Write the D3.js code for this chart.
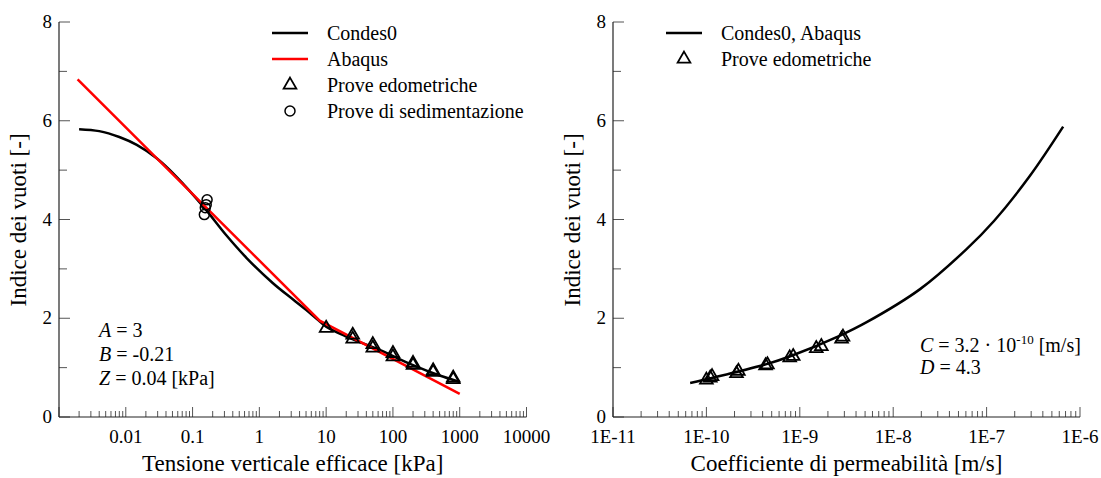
<!DOCTYPE html>
<html lang="it">
<head>
<meta charset="utf-8">
<title>Indice dei vuoti</title>
<script src="https://d3js.org/d3.v7.min.js"></script>
<style>
  body { margin: 0; background: #fff; }
  text { font-family: 'Liberation Serif', 'Times New Roman', serif; fill: #000; }
  .tick-label { font-size: 19px; }
  .axis-title { font-size: 23px; }
  .legend text, .note { font-size: 20px; }
</style>
</head>
<body>
<script>
// ---- data ----
// left chart: void ratio vs vertical effective stress [kPa]
const condesLeft = [[0.002,5.83],[0.004,5.79],[0.008,5.67],[0.0146,5.51],[0.029,5.24],[0.058,4.86],[0.145,4.26],
  [0.32,3.68],[0.645,3.22],[1.6,2.71],[3.2,2.38],[5,2.17],[7.2,1.99],[10,1.83],[20,1.63],[63,1.36],
  [200,1.05],[500,0.84],[1000,0.71]];
const abaqusLeft = [[0.0019,6.84],[8,1.95],[1000,0.47]];
const edometricheLeft = [[10,1.80],[25,1.66],[25,1.58],[50,1.47],[50,1.40],[100,1.29],[100,1.22],
  [200,1.09],[200,1.05],[400,0.94],[400,0.91],[800,0.79],[800,0.76]];
const sedimentazione = [[0.165,4.40],[0.16,4.30],[0.155,4.24],[0.15,4.10]];
const leftTicks = [0.01, 0.1, 1, 10, 100, 1000, 10000];
const leftTickLabels = ["0.01", "0.1", "1", "10", "100", "1000", "10000"];

// right chart: void ratio vs permeability [m/s]
const condesRight = [[6.7e-11,0.69],[1.2e-10,0.80],[4.4e-10,1.07],[7.9e-10,1.23],[2.7e-9,1.65],[5.2e-9,1.92],
  [1.94e-8,2.59],[6.1e-8,3.40],[1.2e-7,3.97],[2.9e-7,4.88],[6.6e-7,5.88]];
const edometricheRight = [[1.0e-10,0.75],[1.1e-10,0.79],[1.15e-10,0.82],[2.1e-10,0.88],[2.2e-10,0.93],
  [4.3e-10,1.04],[4.5e-10,1.06],[7.8e-10,1.20],[8.5e-10,1.23],[1.5e-9,1.39],[1.7e-9,1.43],[2.8e-9,1.58],[2.9e-9,1.62]];
const rightTicks = [1e-11, 1e-10, 1e-9, 1e-8, 1e-7, 1e-6];
const rightTickLabels = ["1E-11", "1E-10", "1E-9", "1E-8", "1E-7", "1E-6"];

const yTicks = [0, 2, 4, 6, 8];

const W = 1101, H = 478;
const svg = d3.select("body").append("svg").attr("width", W).attr("height", H);

const yScale = d3.scaleLinear().domain([0, 8]).range([417, 22]);

const triangle = d3.symbol().type(d3.symbolTriangle).size(70);

function drawPanel(cfg) {
  const g = svg.append("g");
  const x = cfg.x, y = yScale;
  const x0 = x.range()[0];

  // minor and major x ticks (inward)
  const [d0, d1] = x.domain().map(Math.log10);
  const minor = [];
  for (let e = Math.round(d0); e < Math.round(d1); e++) {
    for (let m = 2; m <= 9; m++) minor.push(m * Math.pow(10, e));
  }
  g.selectAll(".xminor").data(minor).join("line")
    .attr("x1", d => x(d)).attr("x2", d => x(d))
    .attr("y1", 417).attr("y2", 411)
    .attr("stroke", "#555").attr("stroke-width", 1);
  const major = d3.range(Math.round(d0), Math.round(d1) + 1).map(e => Math.pow(10, e));
  g.selectAll(".xmajor").data(major).join("line")
    .attr("x1", d => x(d)).attr("x2", d => x(d))
    .attr("y1", 417).attr("y2", 407)
    .attr("stroke", "#555").attr("stroke-width", 1);

  // y ticks
  g.selectAll(".ymajor").data(yTicks).join("line")
    .attr("x1", x0).attr("x2", x0 + 11)
    .attr("y1", d => y(d)).attr("y2", d => y(d))
    .attr("stroke", "#555");
  g.selectAll(".yminor").data([1, 3, 5, 7]).join("line")
    .attr("x1", x0).attr("x2", x0 + 8)
    .attr("y1", d => y(d)).attr("y2", d => y(d))
    .attr("stroke", "#555");

  // axis lines
  g.append("line").attr("x1", x0).attr("x2", x.range()[1]).attr("y1", 417).attr("y2", 417)
    .attr("stroke", "#222").attr("stroke-width", 1.2);
  g.append("line").attr("x1", x0).attr("x2", x0).attr("y1", 417).attr("y2", 22)
    .attr("stroke", "#222").attr("stroke-width", 1.2);

  // tick labels
  g.selectAll(".xl").data(cfg.ticks).join("text")
    .attr("class", "tick-label")
    .attr("x", d => x(d)).attr("y", 443)
    .attr("text-anchor", "middle")
    .text((d, i) => cfg.tickLabels[i]);
  g.selectAll(".yl").data(yTicks).join("text")
    .attr("class", "tick-label")
    .attr("x", x0 - 7).attr("y", d => y(d) + 6)
    .attr("text-anchor", "end")
    .text(d => d);

  // titles
  g.append("text").attr("class", "axis-title")
    .attr("x", (x0 + x.range()[1]) / 2).attr("y", 471)
    .attr("text-anchor", "middle").text(cfg.xTitle);
  g.append("text").attr("class", "axis-title")
    .attr("transform", `translate(${x0 - 33},220) rotate(-90)`)
    .attr("text-anchor", "middle").text("Indice dei vuoti [-]");

  cfg.lines.forEach(l => {
    g.append("path").datum(l.data)
      .attr("d", d3.line().x(d => x(d[0])).y(d => y(d[1])).curve(l.curve || d3.curveCatmullRom.alpha(0.5)))
      .attr("fill", "none").attr("stroke", l.color).attr("stroke-width", 2.5);
  });
  g.selectAll(".tri").data(cfg.triangles).join("path")
    .attr("d", triangle)
    .attr("transform", d => `translate(${x(d[0])},${y(d[1])})`)
    .attr("fill", "none").attr("stroke", "#000").attr("stroke-width", 1.8);
  if (cfg.circles) {
    g.selectAll(".circ").data(cfg.circles).join("circle")
      .attr("cx", d => x(d[0])).attr("cy", d => y(d[1])).attr("r", 5)
      .attr("fill", "none").attr("stroke", "#000").attr("stroke-width", 1.5);
  }
  return g;
}

// left panel
const xLeft = d3.scaleLog().domain([0.001, 10000]).range([59, 526.5]);
const gl = drawPanel({
  x: xLeft, ticks: leftTicks, tickLabels: leftTickLabels,
  xTitle: "Tensione verticale efficace [kPa]",
  lines: [
    { data: condesLeft, color: "#000" },
    { data: abaqusLeft, color: "#ff0000", curve: d3.curveLinear }
  ],
  triangles: edometricheLeft, circles: sedimentazione
});

// right panel
const xRight = d3.scaleLog().domain([1e-11, 1e-6]).range([613, 1080]);
const gr = drawPanel({
  x: xRight, ticks: rightTicks, tickLabels: rightTickLabels,
  xTitle: "Coefficiente di permeabilità [m/s]",
  lines: [{ data: condesRight, color: "#000" }],
  triangles: edometricheRight
});

// legends
function legend(g, x, items) {
  const lg = g.append("g").attr("class", "legend");
  items.forEach((it, i) => {
    const yy = 33 + i * 26;
    if (it.type === "line") {
      lg.append("line").attr("x1", x).attr("x2", x + 36).attr("y1", yy).attr("y2", yy)
        .attr("stroke", it.color).attr("stroke-width", 2.5);
    } else if (it.type === "tri") {
      lg.append("path").attr("d", triangle).attr("transform", `translate(${x + 18},${yy})`)
        .attr("fill", "none").attr("stroke", "#000").attr("stroke-width", 1.8);
    } else {
      lg.append("circle").attr("cx", x + 18).attr("cy", yy).attr("r", 5)
        .attr("fill", "none").attr("stroke", "#000").attr("stroke-width", 1.5);
    }
    lg.append("text").attr("x", x + 55).attr("y", yy + 7).text(it.label);
  });
}
legend(gl, 272, [
  { type: "line", color: "#000", label: "Condes0" },
  { type: "line", color: "#ff0000", label: "Abaqus" },
  { type: "tri", label: "Prove edometriche" },
  { type: "circ", label: "Prove di sedimentazione" }
]);
legend(gr, 666, [
  { type: "line", color: "#000", label: "Condes0, Abaqus" },
  { type: "tri", label: "Prove edometriche" }
]);

// parameter notes
function note(g, x, y, sym, rest, sup, tail) {
  const t = g.append("text").attr("class", "note").attr("x", x).attr("y", y);
  t.append("tspan").attr("font-style", "italic").text(sym);
  t.append("tspan").text(rest);
  if (sup) {
    t.append("tspan").attr("dy", -8).attr("font-size", 13).text(sup);
    t.append("tspan").attr("dy", 8).text(tail);
  }
}
note(gl, 99, 337, "A", " = 3");
note(gl, 99, 361, "B", " = -0.21");
note(gl, 99, 385, "Z", " = 0.04 [kPa]");
note(gr, 920, 352, "C", " = 3.2 \u00b7 10", "-10", " [m/s]");
note(gr, 920, 374, "D", " = 4.3");
</script>
</body>
</html>
